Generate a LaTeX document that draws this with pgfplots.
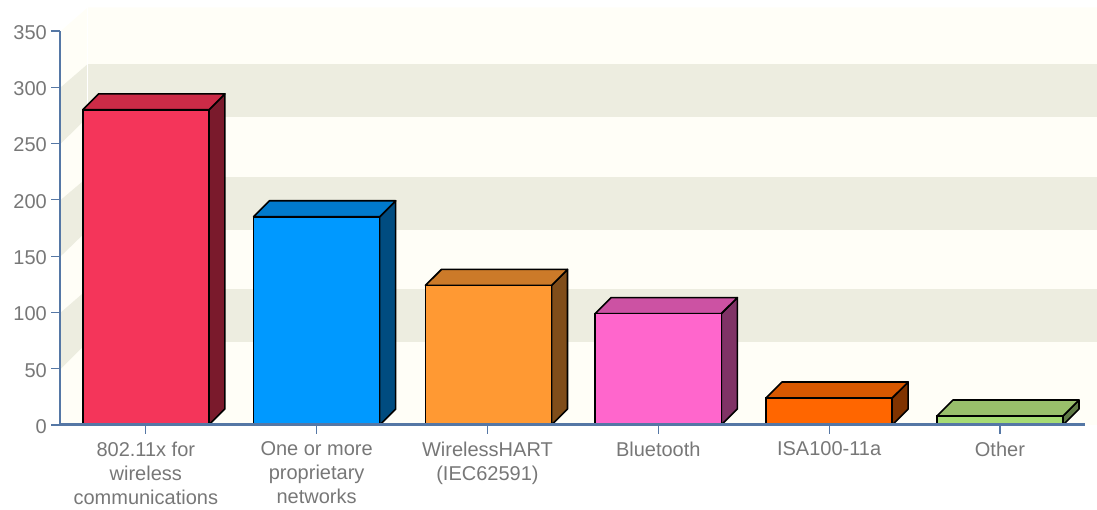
\documentclass[border=0pt]{standalone}
\usepackage{fontspec}
\setmainfont{Liberation Sans}
\usepackage{pgfplots}
\pgfplotsset{compat=1.18}

\definecolor{wall}{HTML}{FFFEF7}
\definecolor{band}{HTML}{EDEDE0}
\definecolor{axisblue}{HTML}{5577A5}
\definecolor{labelgray}{HTML}{777777}

\definecolor{redF}{HTML}{F4355A}
\definecolor{redT}{HTML}{CC2B47}
\definecolor{redS}{HTML}{7A1A2C}
\definecolor{blueF}{HTML}{0099FF}
\definecolor{blueT}{HTML}{007ACC}
\definecolor{blueS}{HTML}{004C80}
\definecolor{orangeF}{HTML}{FF9933}
\definecolor{orangeT}{HTML}{CC7A29}
\definecolor{orangeS}{HTML}{804D1A}
\definecolor{pinkF}{HTML}{FF66CC}
\definecolor{pinkT}{HTML}{CC52A3}
\definecolor{pinkS}{HTML}{803366}
\definecolor{darkoF}{HTML}{FF6600}
\definecolor{darkoT}{HTML}{D95800}
\definecolor{darkoS}{HTML}{803300}
\definecolor{greenF}{HTML}{A6DB73}
\definecolor{greenT}{HTML}{99BF6B}
\definecolor{greenS}{HTML}{5F7A45}

\pgfplotsset{
  front/.style={ybar, bar width=0.738, bar shift=0pt, fill=#1, draw=black, line width=1.6pt, forget plot},
  face/.style={fill=#1, draw=black, line width=1.6pt, line join=round, forget plot, mark=none},
  backdrop/.style={fill=#1, draw=none, forget plot, mark=none},
}

\begin{document}
\begin{tikzpicture}
\begin{axis}[
  name=main, anchor=south west,
  scale only axis, width=1025pt, height=394pt,
  xmin=-0.5, xmax=5.5, ymin=0, ymax=350,
  clip=false, axis on top,
  axis lines=left,
  x axis line style={-, draw=axisblue, line width=3pt},
  y axis line style={-, draw=axisblue, line width=2pt},
  xtick={0,1,2,3,4,5},
  xticklabels={{802.11x for\\wireless\\communications},{One or more\\proprietary\\networks},{WirelessHART\\(IEC62591)},{Bluetooth},{ISA100-11a},{Other}},
  ytick={0,50,100,150,200,250,300,350},
  tick align=outside,
  major tick length=9pt,
  tick style={draw=axisblue, line width=1.2pt},
  tick label style={font=\fontsize{20}{24}\selectfont, text=labelgray},
  xticklabel style={align=center, anchor=north, yshift=-4pt},
  yticklabel style={anchor=east, xshift=-1pt, yshift=-1.5pt},
  /pgf/number format/assume math mode=true,
]

% back wall and left side wall
\addplot[backdrop=wall] coordinates {(-0.4977,350) (-0.3396,371) (5.574,371) (5.574,0) (-0.4977,0)} --cycle;
\addplot[backdrop=band] coordinates {(-0.3396,320.7) (5.574,320.7) (5.574,273.6) (-0.3396,273.6)} --cycle;
\addplot[backdrop=band] coordinates {(-0.3396,220.3) (5.574,220.3) (5.574,173.2) (-0.3396,173.2)} --cycle;
\addplot[backdrop=band] coordinates {(-0.3396,120.8) (5.574,120.8) (5.574,73.7) (-0.3396,73.7)} --cycle;
\addplot[backdrop=band] coordinates {(-0.4977,300) (-0.3396,320.7) (-0.3396,273.6) (-0.4977,250)} --cycle;
\addplot[backdrop=band] coordinates {(-0.4977,200) (-0.3396,220.3) (-0.3396,173.2) (-0.4977,150)} --cycle;
\addplot[backdrop=band] coordinates {(-0.4977,100) (-0.3396,120.8) (-0.3396,73.7) (-0.4977,50)} --cycle;
\addplot[white, line width=0.8pt, forget plot, mark=none] coordinates {(-0.3396,21.3) (-0.3396,371)};

% 802.11x
\addplot[face=redS] coordinates {(0.369,0) (0.4627,14.2) (0.4627,294.2) (0.369,280)} --cycle;
\addplot[face=redT] coordinates {(-0.369,280) (0.369,280) (0.4627,294.2) (-0.2753,294.2)} --cycle;
\addplot[front=redF] coordinates {(0,280)};

% proprietary
\addplot[face=blueS] coordinates {(1.369,0) (1.4627,14.2) (1.4627,199.2) (1.369,185)} --cycle;
\addplot[face=blueT] coordinates {(0.631,185) (1.369,185) (1.4627,199.2) (0.7247,199.2)} --cycle;
\addplot[front=blueF] coordinates {(1,185)};

% WirelessHART
\addplot[face=orangeS] coordinates {(2.375,0) (2.4687,14.2) (2.4687,138.2) (2.375,124)} --cycle;
\addplot[face=orangeT] coordinates {(1.637,124) (2.375,124) (2.4687,138.2) (1.7307,138.2)} --cycle;
\addplot[front=orangeF] coordinates {(2.006,124)};

% Bluetooth
\addplot[face=pinkS] coordinates {(3.369,0) (3.4627,14.2) (3.4627,113.2) (3.369,99)} --cycle;
\addplot[face=pinkT] coordinates {(2.631,99) (3.369,99) (3.4627,113.2) (2.7247,113.2)} --cycle;
\addplot[front=pinkF] coordinates {(3,99)};

% ISA100
\addplot[face=darkoS] coordinates {(4.369,0) (4.4627,14.2) (4.4627,38.2) (4.369,24)} --cycle;
\addplot[face=darkoT] coordinates {(3.631,24) (4.369,24) (4.4627,38.2) (3.7247,38.2)} --cycle;
\addplot[front=darkoF] coordinates {(4,24)};

% Other
\addplot[face=greenS] coordinates {(5.369,0) (5.4627,14.2) (5.4627,22.2) (5.369,8)} --cycle;
\addplot[face=greenT] coordinates {(4.631,8) (5.369,8) (5.4627,22.2) (4.7247,22.2)} --cycle;
\addplot[front=greenF] coordinates {(5,8)};
\end{axis}
\pgfresetboundingbox
\path[use as bounding box] (-60.4pt,-85pt) rectangle (1036.6pt,425pt);
\end{tikzpicture}
\end{document}
